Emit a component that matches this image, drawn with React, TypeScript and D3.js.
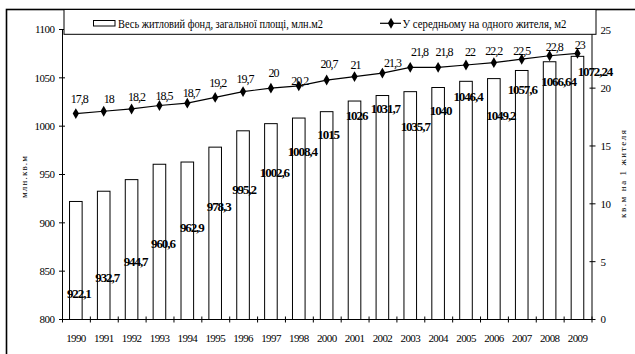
import React from "react";
import * as d3 from "d3";

const years = ["1990","1991","1992","1993","1994","1995","1996","1997","1998","2000","2001","2002","2003","2004","2005","2006","2007","2008","2009"];
const housingStock = [922.1, 932.7, 944.7, 960.6, 962.9, 978.3, 995.2, 1002.6, 1008.4, 1015, 1026, 1031.7, 1035.7, 1040, 1046.4, 1049.2, 1057.6, 1066.64, 1072.24];
const perResident = [17.8, 18, 18.2, 18.5, 18.7, 19.2, 19.7, 20, 20.2, 20.7, 21, 21.3, 21.8, 21.8, 22, 22.2, 22.5, 22.8, 23];
const housingLabels = ["922,1","932,7","944,7","960,6","962,9","978,3","995,2","1002,6","1008,4","1015","1026","1031,7","1035,7","1040","1046,4","1049,2","1057,6","1066,64","1072,24"];
const residentLabels = ["17,8","18","18,2","18,5","18,7","19,2","19,7","20","20,2","20,7","21","21,3","21,8","21,8","22","22,2","22,5","22,8","23"];
// label anchor levels (left-axis units / right-axis units)
const barLabelLevel = [826.5, 843.4, 859.9, 878.9, 895.5, 916.7, 935, 951.9, 973.6, 991.5, 1011.5, 1018.4, 1000.1, 1016.6, 1030.4, 1011.5, 1038, 1046.6, 1056.2];
const barLabelShift = [3, 3.5, 4, 3.5, 4.5, 3.5, 1, 3.5, 3.5, 1.5, 2, 3, 5, 2.5, 2, 7, 0.5, 9, 17.5];
const lineLabelLevel = [19.1, 19.07, 19.29, 19.36, 19.62, 20.46, 20.79, 21.33, 20.6, 22.07, 22.0, 22.17, 23.18, 23.14, 23.18, 23.27, 23.27, 23.55, 23.75];
const lineLabelShift = [3.5, 5, 5, 4.5, 4, 2.5, 2, 2.5, 1, 2.3, 1, 10, 9.3, 6, 4, 0, 0, 4.7, 2.4];
const leftTicks = [800, 850, 900, 950, 1000, 1050, 1100];
const rightTicks = [0, 5, 10, 15, 20, 25];
const legendBars = "Весь житловий фонд, загальної площі, млн.м2";
const legendLine = "У середньому на одного жителя, м2";
const leftTitle = "млн.кв.м";
const rightTitle = "кв.м на 1 жителя";

const W = 635, H = 354;
const L = 62.5, R = 592, T = 29.5, B = 319.5;
const FONT = "'Liberation Serif', 'DejaVu Serif', serif";

export default function App() {
  const x = d3.scaleBand<string>().domain(years).range([L, R]).padding(0);
  const yL = d3.scaleLinear().domain([800, 1100]).range([B, T]);
  const yR = d3.scaleLinear().domain([0, 25]).range([B, T + 0.8]);
  const bw = 12.6;
  const cx = (i: number) => (x(years[i]) as number) + x.bandwidth() / 2 - 0.6;
  const line = d3.line<number>().x((_, i) => cx(i)).y((d) => yR(d));
  const diamond = d3.symbol().type(d3.symbolDiamond).size(34)();
  const boundaries = d3.range(years.length + 1).map((i) => L + i * x.bandwidth());
  const txt = { fontFamily: FONT } as React.CSSProperties;

  return (
    <svg width={W} height={H} style={{ position: "absolute", left: 0, top: 0, display: "block", fontFamily: FONT }}>
      <rect x={0} y={0} width={W} height={H} fill="#fff" />
      <rect x={6.5} y={9.5} width={700} height={400} fill="none" stroke="#000" strokeWidth={1.6} />

      {/* bars */}
      {housingStock.map((v, i) => (
        <rect key={"b" + i} x={cx(i) - bw / 2} y={yL(v)} width={bw} height={B - yL(v)} fill="#fff" stroke="#000" strokeWidth={1} />
      ))}

      {/* axes */}
      <line x1={L} x2={L} y1={T} y2={B} stroke="#000" />
      <line x1={R} x2={R} y1={T} y2={B} stroke="#000" />
      <line x1={L} x2={R} y1={B} y2={B} stroke="#000" />
      {leftTicks.map((t) => (
        <g key={"lt" + t}>
          <line x1={L - 3.5} x2={L + 2.5} y1={yL(t)} y2={yL(t)} stroke="#000" />
          <text style={txt} x={L - 8} y={yL(t)} dy="0.35em" textAnchor="end" fontSize={11} letterSpacing={-0.5}>{t}</text>
        </g>
      ))}
      {rightTicks.map((t) => (
        <g key={"rt" + t}>
          <line x1={R - 2.5} x2={R + 3.5} y1={yR(t)} y2={yR(t)} stroke="#000" />
          <text style={txt} x={R + 8.5} y={yR(t)} dy="0.35em" textAnchor="start" fontSize={11} letterSpacing={-0.5}>{t}</text>
        </g>
      ))}
      {boundaries.map((bx, i) => (
        <line key={"xt" + i} x1={bx} x2={bx} y1={B - 3} y2={B + 3} stroke="#000" />
      ))}
      {years.map((yr) => (
        <text style={txt} key={"xl" + yr} x={(x(yr) as number) + x.bandwidth() / 2 - 0.5} y={338} dy="0.35em" textAnchor="middle" fontSize={11} letterSpacing={-0.6}>{yr}</text>
      ))}

      {/* line */}
      <path d={line(perResident) || ""} fill="none" stroke="#000" strokeWidth={1.2} />
      {perResident.map((v, i) => (
        <path key={"m" + i} d={diamond || ""} transform={`translate(${cx(i)},${yR(v)})`} fill="#000" />
      ))}
      {perResident.map((v, i) => (
        <text style={txt} key={"ll" + i} x={cx(i) + lineLabelShift[i]} y={yR(lineLabelLevel[i])} dy="0.35em" textAnchor="middle" fontSize={12} letterSpacing={-1}>{residentLabels[i]}</text>
      ))}

      {/* bar labels */}
      {housingStock.map((v, i) => (
        <text style={txt} key={"bl" + i} x={cx(i) + barLabelShift[i]} y={yL(barLabelLevel[i])} dy="0.35em" textAnchor="middle" fontSize={13} fontWeight="bold" letterSpacing={-1.1}>{housingLabels[i]}</text>
      ))}

      {/* legend */}
      <rect x={64} y={9.5} width={532} height={24.8} fill="#fff" stroke="#000" strokeWidth={1} />
      <rect x={93.5} y={20.5} width={21.5} height={5.5} fill="#fff" stroke="#000" strokeWidth={1} />
      <text style={txt} x={118} y={23.3} dy="0.35em" fontSize={12} textLength={205} lengthAdjust="spacingAndGlyphs">{legendBars}</text>
      <line x1={380} x2={401} y1={23.3} y2={23.3} stroke="#000" strokeWidth={1.2} />
      <path d={diamond || ""} transform="translate(391,23.3)" fill="#000" />
      <text style={txt} x={402.5} y={23.3} dy="0.35em" fontSize={12} textLength={164} lengthAdjust="spacingAndGlyphs">{legendLine}</text>

      {/* axis titles */}
      <text style={txt} transform="translate(23.5,177) rotate(-90)" dy="0.35em" textAnchor="middle" fontSize={9} textLength={42} lengthAdjust="spacing">{leftTitle}</text>
      <text style={txt} transform="translate(623,174) rotate(-90)" dy="0.35em" textAnchor="middle" fontSize={9} textLength={88} lengthAdjust="spacing">{rightTitle}</text>
    </svg>
  );
}
